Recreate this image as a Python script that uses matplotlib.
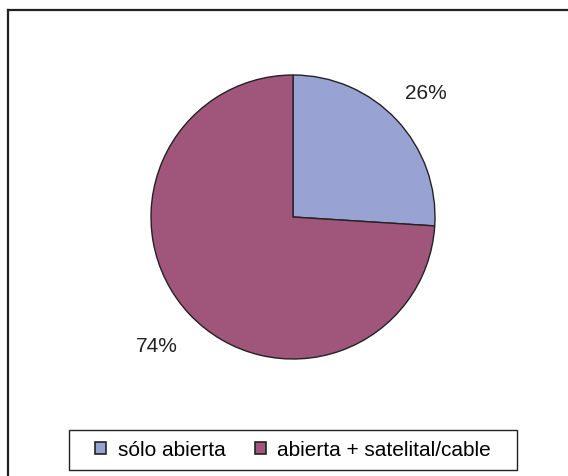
import matplotlib
matplotlib.use("Agg")
import matplotlib.pyplot as plt
from matplotlib.lines import Line2D
from matplotlib.patches import Patch, Rectangle

plt.rcParams["font.family"] = ["Liberation Sans", "DejaVu Sans"]

categories = ["sólo abierta", "abierta + satelital/cable"]
values = [26, 74]
colors = ["#99A3D3", "#A0557A"]

W, H = 568, 477
fig = plt.figure(figsize=(W / 100, H / 100), dpi=100)

# pie axes: center (293, 218) px, radius 142 px
cx, cy, r = 293, 218, 142
ax = fig.add_axes([(cx - r) / W, (H - cy - r) / H, 2 * r / W, 2 * r / H])
wedges, texts = ax.pie(values, colors=colors, startangle=90, counterclock=False,
                       wedgeprops=dict(edgecolor="#222222", linewidth=1.0),
                       labels=[f"{v}%" for v in values], labeldistance=1.0,
                       textprops=dict(fontsize=15, color="#222222"))
for t, d in zip(texts, [1.28, 1.32]):
    x, y = t.get_position()
    t.set_position((x * d, y * d))
    t.set_ha("center")
    t.set_va("center")
ax.set_xlim(-1, 1)
ax.set_ylim(-1, 1)
ax.set_aspect("equal")
ax.axis("off")

# outer frame (only top and left visible)
fig.add_artist(Line2D([8 / W, 1.0], [1 - 11 / H, 1 - 11 / H], color="#222222", lw=1.6))
fig.add_artist(Line2D([8 / W, 8 / W], [0, 1 - 11 / H], color="#222222", lw=1.6))

# legend box (drawn separately so it can be wider than the entries)
fig.add_artist(Rectangle((69 / W, 1 - 471 / H), 448 / W, 40 / H, transform=fig.transFigure,
                         facecolor="white", edgecolor="#222222", linewidth=1.0))
handles = [Patch(facecolor=c, edgecolor="#222222", linewidth=1.2) for c in colors]
leg = fig.legend(handles, categories, loc="center", bbox_to_anchor=(293 / W, 1 - 451 / H),
                 ncol=2, fontsize=15, frameon=False,
                 handlelength=0.53, handleheight=0.53, handletextpad=0.55, columnspacing=1.4,
                 borderpad=0.45, borderaxespad=0)

fig.savefig("out.png", dpi=100, facecolor="white")
